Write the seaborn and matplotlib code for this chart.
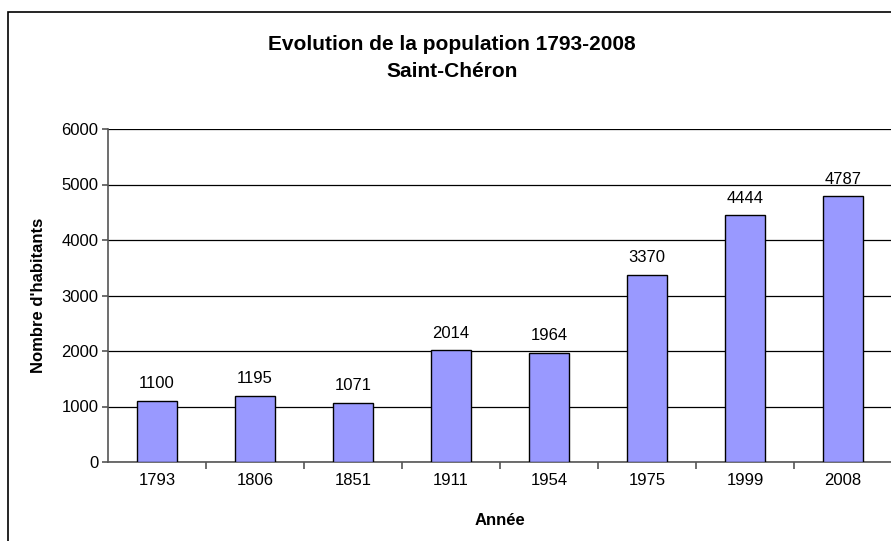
import matplotlib
matplotlib.use("Agg")
import matplotlib.pyplot as plt
import seaborn as sns
import pandas as pd
from matplotlib.patches import Rectangle

annees = ["1793", "1806", "1851", "1911", "1954", "1975", "1999", "2008"]
habitants = [1100, 1195, 1071, 2014, 1964, 3370, 4444, 4787]

df = pd.DataFrame({"annee": annees, "habitants": habitants})

sns.set_style("white")
plt.rcParams["font.family"] = ["Liberation Sans", "DejaVu Sans"]
plt.rcParams["text.color"] = "black"
plt.rcParams["axes.labelcolor"] = "black"
plt.rcParams["xtick.color"] = "black"
plt.rcParams["ytick.color"] = "black"

fig = plt.figure(figsize=(8.91, 5.41), dpi=100)
ax = fig.add_axes([108 / 891, 1 - 462 / 541, 784 / 891, 333 / 541])

sns.barplot(data=df, x="annee", y="habitants", color="#9999FF", saturation=1,
            width=0.4, edgecolor="black", linewidth=1, ax=ax, zorder=3)

ax.set_ylim(0, 6000)
ax.set_xlim(-0.5, len(annees) - 0.5)
ax.set_yticks(range(0, 6001, 1000))
ax.yaxis.grid(True, color="black", linewidth=0.9, zorder=0)
ax.set_axisbelow(True)

for s in ["top", "right"]:
    ax.spines[s].set_visible(False)
for s in ["left", "bottom"]:
    ax.spines[s].set_color("#555555")
    ax.spines[s].set_linewidth(1.2)

# x ticks between categories
ax.set_xticks(range(len(annees)))
ax.set_xticklabels(annees)
ax.tick_params(axis="x", length=0, pad=8, labelsize=12)
ax.set_xticks([i + 0.5 for i in range(len(annees) - 1)], minor=True)
ax.tick_params(axis="x", which="minor", direction="out", length=5, color="#555555", width=1.2)
ax.tick_params(axis="y", direction="out", length=4, color="#555555", width=1.2, labelsize=12, pad=3)
ax.tick_params(left=True, bottom=False)
ax.tick_params(axis="x", which="minor", bottom=True)

for i, v in enumerate(habitants):
    ax.annotate(str(v), (i, v), xytext=(0, 7), textcoords="offset points",
                ha="center", va="bottom", fontsize=12)

ax.set_xlabel("Année", fontsize=12, fontweight="bold", labelpad=18)
ax.set_ylabel("Nombre d'habitants", fontsize=12, fontweight="bold", labelpad=11)

fig.text(452 / 891, 1 - 49.5 / 541, "Evolution de la population 1793-2008",
         ha="center", va="baseline", fontsize=15, fontweight="bold")
fig.text(452 / 891, 1 - 77 / 541, "Saint-Chéron",
         ha="center", va="baseline", fontsize=15, fontweight="bold")

fig.patches.append(Rectangle((8 / 891, -0.1), 1.2, 1 - 12 / 541 + 0.1,
                             transform=fig.transFigure, fill=False,
                             edgecolor="black", linewidth=1.2))

fig.savefig("out.png", dpi=100)
